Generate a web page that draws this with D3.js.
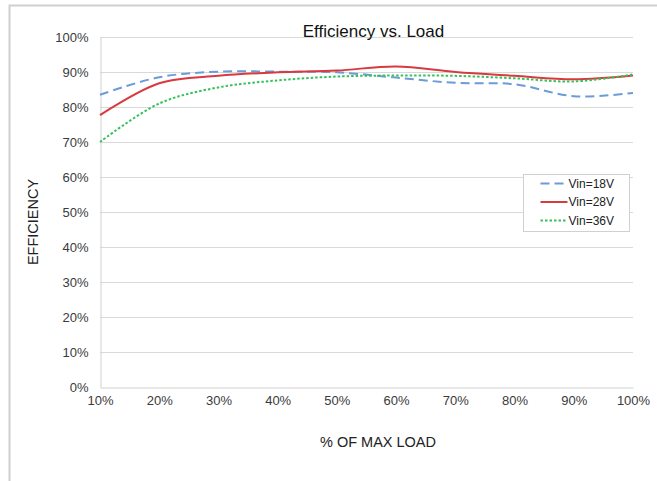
<!DOCTYPE html>
<html><head><meta charset="utf-8">
<script src="https://cdn.jsdelivr.net/npm/d3@7"></script>
<style>body{margin:0;background:#fff}svg{display:block;font-family:"Liberation Sans",Arial,sans-serif}</style>
</head><body><svg id="c" width="657" height="481"></svg>
<script>
const loads = [10,20,30,40,50,60,70,80,90,100];
const vin18 = [83.5,88.5,90.1,90.1,89.9,88.4,86.9,86.5,83.1,84.0];
const vin28 = [77.7,86.8,88.9,89.9,90.4,91.6,90.0,88.9,87.9,89.0];
const vin36 = [70.0,81.0,85.6,87.6,88.7,89.0,88.9,88.2,87.3,89.3];
const seriesNames = ["Vin=18V","Vin=28V","Vin=36V"];
const yTicks = [0,10,20,30,40,50,60,70,80,90,100];

const svg = d3.select("#c");
const L=100,R=633,T=37,B=387;
const x = d3.scaleLinear().domain([10,100]).range([L,R]);
const y = d3.scaleLinear().domain([0,100]).range([B,T]);

// outer frame
svg.append("path").attr("d","M9.5,481 V5.5 H657").attr("fill","none").attr("stroke","#d0d0d0").attr("stroke-width",2);

// gridlines
svg.append("g").selectAll("line").data(yTicks.filter(d=>d>0)).join("line")
  .attr("x1",L).attr("x2",R).attr("y1",d=>Math.round(y(d))+0.5).attr("y2",d=>Math.round(y(d))+0.5)
  .attr("stroke","#d9d9d9").attr("stroke-width",1);

// axes
const yAxis = svg.append("g").attr("transform",`translate(${L+0.5},0)`)
  .call(d3.axisLeft(y).tickValues(yTicks).tickFormat(d=>d+"%").tickSize(0).tickPadding(12));
yAxis.select(".domain").attr("stroke","#d0d0d0");
yAxis.selectAll("text").attr("font-size",13).attr("fill","#3a3a3a").attr("font-family","Liberation Sans, Arial, sans-serif").attr("dy","0.32em");

const xAxis = svg.append("g").attr("transform",`translate(0,${B+0.5})`)
  .call(d3.axisBottom(x).tickValues(loads).tickFormat(d=>d+"%").tickSize(0).tickPadding(8));
xAxis.select(".domain").attr("stroke","#d0d0d0");
xAxis.selectAll("text").attr("font-size",13).attr("fill","#3a3a3a").attr("font-family","Liberation Sans, Arial, sans-serif");

// titles
svg.append("text").attr("x",373.5).attr("y",37).attr("text-anchor","middle").attr("font-size",17).attr("fill","#111").text("Efficiency vs. Load");
svg.append("text").attr("x",378).attr("y",447).attr("text-anchor","middle").attr("font-size",14.5).attr("fill","#222").text("% OF MAX LOAD");
svg.append("text").attr("transform","translate(38,222) rotate(-90)").attr("text-anchor","middle").attr("font-size",14.5).attr("fill","#222").text("EFFICIENCY");

// series
const styles = [
  {color:"#6b9bd9", dash:"9,5"},
  {color:"#d83a3f", dash:null},
  {color:"#35c25c", dash:"2.5,2"}
];
const data = [vin18,vin28,vin36];
const line = d3.line().x((d,i)=>x(loads[i])).y(d=>y(d)).curve(d3.curveCatmullRom.alpha(0.5));
data.forEach((s,i)=>{
  svg.append("path").datum(s).attr("d",line).attr("fill","none")
    .attr("stroke",styles[i].color).attr("stroke-width",2)
    .attr("stroke-dasharray",styles[i].dash);
});

// legend
const lg = svg.append("g").attr("transform","translate(523.5,174.5)");
lg.append("rect").attr("width",106).attr("height",57).attr("fill","#fff").attr("stroke","#d0d0d0");
seriesNames.forEach((n,i)=>{
  const yy = 9 + i*18.5;
  lg.append("line").attr("x1",17).attr("x2",44).attr("y1",yy).attr("y2",yy)
    .attr("stroke",styles[i].color).attr("stroke-width",2).attr("stroke-dasharray",styles[i].dash);
  lg.append("text").attr("x",45).attr("y",yy).attr("dy","0.35em").attr("font-size",12).attr("fill","#222").text(n);
});
</script></body></html>
